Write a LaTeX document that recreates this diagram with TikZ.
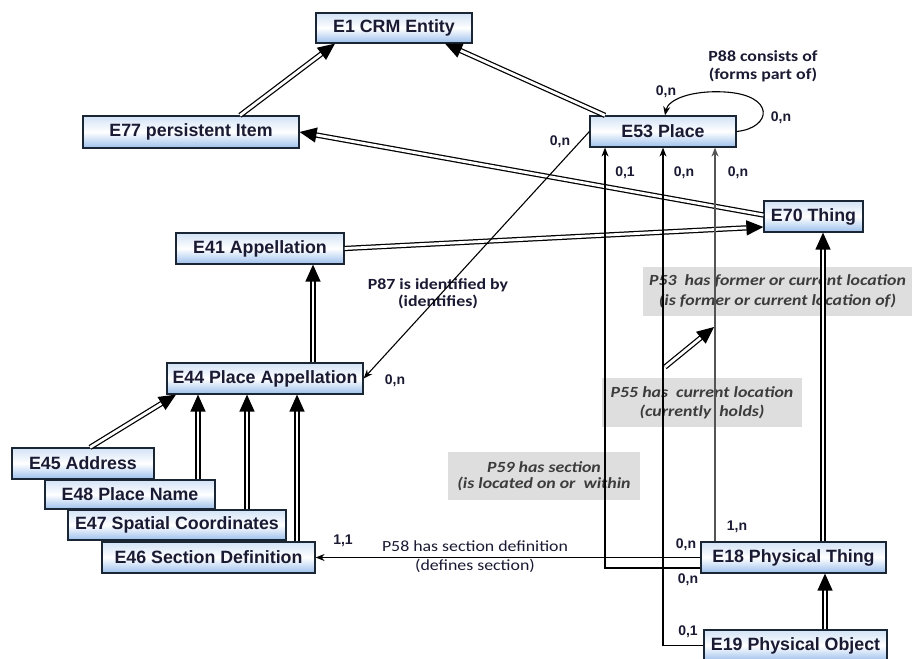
\documentclass[tikz,border=0pt]{standalone}
\usepackage{fontspec}
\setmainfont{Liberation Sans}
\newfontfamily\lblfont[FakeStretch=1.15]{Carlito}
\usetikzlibrary{arrows.meta,calc}
\definecolor{entTop}{HTML}{D2E2F6}
\definecolor{entBot}{HTML}{9CC0EC}
\definecolor{entLine}{HTML}{1B2635}
\definecolor{entText}{HTML}{1A1A33}
\definecolor{boxGray}{HTML}{DEDEDE}
\definecolor{boxText}{HTML}{3C3C3C}
\definecolor{relGray}{HTML}{555555}
\tikzset{
 ent/.style={draw=entLine, line width=1.2pt, top color=entTop, bottom color=entBot, middle color=white, inner sep=0pt, font=\fontsize{17.8}{20}\selectfont\bfseries, text=entText},
 isa/.style={draw=black, double=white, double distance=2.8pt, line width=1.25pt, -{Triangle[length=17pt,width=15pt]}},
 rel/.style={draw=black, line width=1.1pt, -{Stealth[length=9pt,width=7pt]}},
 card/.style={font=\fontsize{14}{16}\selectfont\bfseries, text=entText, inner sep=0pt},
 plabel/.style={font=\lblfont\fontsize{15.5}{17.5}\selectfont, text=entText, align=center, inner sep=0pt},
 gbox/.style={fill=boxGray, draw=none, inner sep=0pt, align=center, text=boxText},
 gfont/.style={font=\lblfont\fontsize{15.5}{#1}\selectfont\bfseries\itshape},
}
\begin{document}
\begin{tikzpicture}[x=1pt,y=-1pt]
\fill[white] (0,0) rectangle (912,658);
\useasboundingbox (0,0) rectangle (912,658);

% grey property labels
\node[gbox, gfont=20, minimum width=269pt, minimum height=49pt] (g53) at (777.5,291) {P53\ \ has former or current location\\(is former or current location of)};
\node[gbox, gfont=19, minimum width=200pt, minimum height=49pt] (g55) at (702,402.5) {P55 has\ \ current location\\(currently\ \ holds)};
\node[gbox, gfont=16.5, minimum width=192pt, minimum height=48pt] (g59) at (544,476) {P59 has section\\(is located on or\ \ within};

% entities
\node[ent, minimum width=156pt, minimum height=30pt] (e1) at (394,28) {E1 CRM Entity};
\node[ent, minimum width=216pt, minimum height=32pt] (e77) at (191,132) {E77 persistent Item};
\node[ent, minimum width=146pt, minimum height=31pt] (e53) at (663,131.5) {E53 Place};
\node[ent, minimum width=99pt, minimum height=31pt] (e70) at (813.5,216.5) {E70 Thing};
\node[ent, minimum width=168pt, minimum height=31pt] (e41) at (260,248.5) {E41 Appellation};
\node[ent, minimum width=196pt, minimum height=31pt] (e44) at (265,378.5) {E44 Place Appellation};
\node[ent, minimum width=142pt, minimum height=31pt] (e45) at (83,463.5) {E45 Address};
\node[ent, minimum width=170pt, minimum height=29pt] (e48) at (130,494.5) {E48 Place Name};
\node[ent, minimum width=218pt, minimum height=30pt] (e47) at (177,525) {E47 Spatial Coordinates};
\node[ent, minimum width=213pt, minimum height=31pt] (e46) at (208.5,557.5) {E46 Section Definition};
\node[ent, minimum width=185pt, minimum height=31pt] (e18) at (793.5,557.5) {E18 Physical Thing};
\node[ent, minimum width=183pt, minimum height=31pt] (e19) at (795.5,645.5) {E19 Physical Object};

% property text labels
\node[plabel, font=\lblfont\fontsize{15.5}{18}\selectfont\bfseries] (l88) at (763,66) {P88 consists of\\(forms part of)};
\node[plabel, font=\lblfont\fontsize{15.5}{17}\selectfont\bfseries] (l87) at (438,293.5) {P87 is identified by\\(identifies)};
\node[plabel, font=\lblfont\fontsize{15.5}{19}\selectfont] (l58) at (475,556.5) {P58 has section definition\\(defines section)};

% cardinalities
\node[card] (c1) at (666,92) {0,n};
\node[card] (c2) at (781,118) {0,n};
\node[card] (c3) at (560,142) {0,n};
\node[card] (c4) at (395,381) {0,n};
\node[card] (c5) at (625,173) {0,1};
\node[card] (c6) at (684,173) {0,n};
\node[card] (c7) at (738,173) {0,n};
\node[card] (c8) at (737,527) {1,n};
\node[card] (c9) at (686,545) {0,n};
\node[card] (c10) at (688,580) {0,n};
\node[card] (c11) at (688,632) {0,1};
\node[card] (c12) at (343,541) {1,1};

% is-a links
\draw[isa] ([xshift=49pt]e77.north) -- ([xshift=-59pt]e1.south);
\draw[isa] ([xshift=-58pt]e53.north) -- ([xshift=51pt]e1.south);
\draw[isa] ([yshift=1.5pt]e70.west) -- (e77.east);
\draw[isa] (e41.east) -- ([yshift=-10.5pt]e70.west);
\coordinate (a44) at ([xshift=48pt]e44.north);
\draw[isa] (a44) -- (a44 |- e41.south);
\draw[isa] ([xshift=7pt]e45.north) -- ([xshift=-89pt]e44.south);
\coordinate (a48) at ([xshift=68pt]e48.north);
\draw[isa] (a48) -- (a48 |- e44.south);
\coordinate (a47) at ([xshift=70pt]e47.north);
\draw[isa] (a47) -- (a47 |- e44.south);
\coordinate (a46) at ([xshift=88.5pt]e46.north);
\draw[isa] (a46) -- (a46 |- e44.south);
\coordinate (a18) at ([xshift=29.5pt]e18.north);
\draw[isa] (a18) -- (a18 |- e70.south);
\coordinate (a19) at ([xshift=29.5pt]e19.north);
\draw[isa] (a19) -- (a19 |- e18.south);
\coordinate (sp1) at (665,367);
\coordinate (sp2) at (714,327);
\draw[isa] (sp1) -- (sp2);

% relations
\draw[rel] (e18.west) -- (e46.east);
\draw[rel] ([yshift=-10.5pt]e18.west) -| ([xshift=-58pt]e53.south);
\draw[rel] (e19.west) -| (e53.south);
\draw[rel, draw=relGray] ([xshift=-78.5pt]e18.north) -- ([xshift=52pt]e53.south);
\draw[rel] (e53.west) -- (e44.east);
\draw[rel] (e53.east) .. controls (772,128) and (776,95) .. (725,92) .. controls (690,90) and (668,100) .. ([xshift=2pt]e53.north);
\end{tikzpicture}
\end{document}
